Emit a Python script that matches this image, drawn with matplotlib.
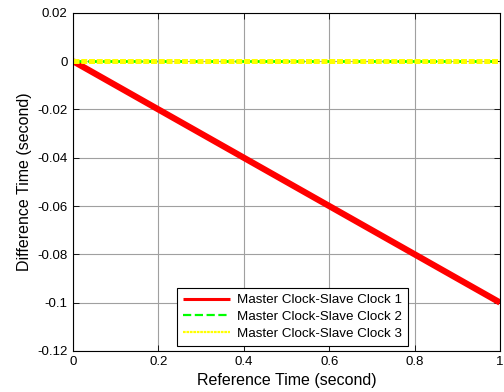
import matplotlib.pyplot as plt
import numpy as np

plt.rcParams['font.family'] = ['Liberation Sans', 'DejaVu Sans']

# reference time (second)
ref_time = [0.0, 0.2, 0.4, 0.6, 0.8, 1.0]
# difference time (second)
diff_clock1 = [0.0, -0.02, -0.04, -0.06, -0.08, -0.1]
diff_clock2 = [0.0, 0.0, 0.0, 0.0, 0.0, 0.0]
diff_clock3 = [0.0, 0.0, 0.0, 0.0, 0.0, 0.0]
labels = ['Master Clock-Slave Clock 1', 'Master Clock-Slave Clock 2', 'Master Clock-Slave Clock 3']

xticks = [0, 0.2, 0.4, 0.6, 0.8, 1]
xtick_labels = ['0', '0.2', '0.4', '0.6', '0.8', '1']
yticks = [-0.12, -0.1, -0.08, -0.06, -0.04, -0.02, 0, 0.02]
ytick_labels = ['-0.12', '-0.1', '-0.08', '-0.06', '-0.04', '-0.02', '0', '0.02']

fig = plt.figure(figsize=(5.04, 3.92), dpi=100)
ax = fig.add_axes([0.145, 0.105, 0.847, 0.862])

ax.plot(ref_time, diff_clock1, color='red', lw=4.5, label=labels[0], solid_capstyle='butt')
ax.plot(ref_time, diff_clock2, color='#00ff00', lw=2, ls='--', label=labels[1])
ax.plot(ref_time, diff_clock3, color='yellow', lw=3.6, ls=(0, (1.2, 0.35)), label=labels[2])

ax.set_xlim(0, 1)
ax.set_ylim(-0.12, 0.02)
ax.set_xticks(xticks)
ax.set_xticklabels(xtick_labels)
ax.set_yticks(yticks)
ax.set_yticklabels(ytick_labels)
ax.tick_params(direction='in', top=True, right=True, labelsize=9.5, length=4, width=0.6, pad=4)
ax.grid(True, color='#a0a0a0', lw=0.8)
for s in ax.spines.values():
    s.set_linewidth(0.8)

ax.set_xlabel('Reference Time (second)', fontsize=11.5, labelpad=3)
ax.set_ylabel('Difference Time (second)', fontsize=11.5, labelpad=4)

leg = ax.legend(loc='lower left', bbox_to_anchor=(0.244, 0.015), fontsize=9.6,
                frameon=True, fancybox=False, edgecolor='black', framealpha=1,
                borderpad=0.45, labelspacing=0.33, handlelength=3.5, handletextpad=0.5,
                borderaxespad=0)
leg.get_frame().set_linewidth(0.8)
for h, lw in zip(leg.get_lines(), [2.2, 1.6, 1.6]):
    h.set_linewidth(lw)

fig.savefig('out.png', dpi=100)
